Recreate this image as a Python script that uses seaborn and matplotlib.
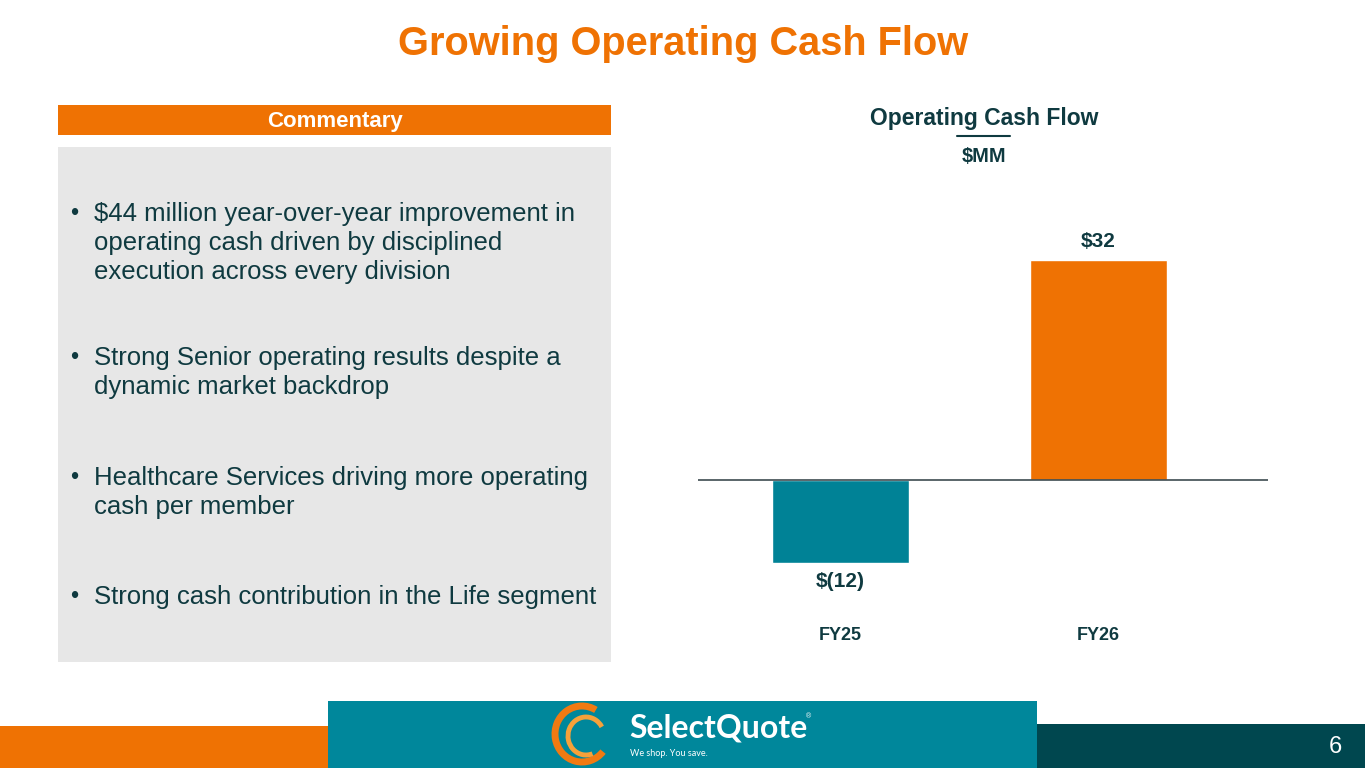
import numpy as np
import pandas as pd
import matplotlib
matplotlib.use("Agg")
import matplotlib.pyplot as plt
from matplotlib.patches import Rectangle, Arc
import seaborn as sns

# Datos
# ==============================================================================
years = ["FY25", "FY26"]
cash_flow = [-12, 32]
value_labels = ["$(12)", "$32"]
bullets = [
    ["$44 million year-over-year improvement in",
     "operating cash driven by disciplined",
     "execution across every division"],
    ["Strong Senior operating results despite a",
     "dynamic market backdrop"],
    ["Healthcare Services driving more operating",
     "cash per member"],
    ["Strong cash contribution in the Life segment"],
]
bullet_y = [214, 358, 478, 597]

datos = pd.DataFrame({"year": years, "cash": cash_flow})

# Colores
# ==============================================================================
ORANGE = "#EF7203"
TEAL = "#008296"
DARK_TEAL = "#00474F"
TEXT = "#0F3A40"
GREY = "#E7E7E7"

sns.set_theme(style="white")
plt.rcParams["font.family"] = ["Liberation Sans", "DejaVu Sans"]

fig = plt.figure(figsize=(13.65, 7.68), dpi=100)
fig.patch.set_facecolor("white")

# Fondo / decoración en coordenadas de pixel
# ==============================================================================
bg = fig.add_axes([0, 0, 1, 1], zorder=0)
bg.set_xlim(0, 1365)
bg.set_ylim(768, 0)
bg.axis("off")

bg.text(683, 44, "Growing Operating Cash Flow", color=ORANGE, fontsize=28.6,
        fontweight="bold", ha="center", va="center")

bg.add_patch(Rectangle((58, 105), 553, 30, color=ORANGE, lw=0))
bg.text(335, 121, "Commentary", color="white", fontsize=16,
        fontweight="bold", ha="center", va="center")
bg.add_patch(Rectangle((58, 147), 553, 515, color=GREY, lw=0))

for lines, y0 in zip(bullets, bullet_y):
    bg.text(70, y0, "•", color=TEXT, fontsize=17, ha="left", va="center")
    for i, line in enumerate(lines):
        bg.text(94, y0 + i * 29, line, color=TEXT, fontsize=18.5,
                ha="left", va="center")

# Título del gráfico
bg.text(984, 119, "Operating Cash Flow", color=TEXT, fontsize=16.5,
        fontweight="bold", ha="center", va="center")
bg.plot([957, 1010], [136, 136], color=TEXT, lw=1.5)
bg.text(984, 156, "$MM", color=TEXT, fontsize=14.5, fontweight="bold",
        ha="center", va="center")

# Pie de página
bg.add_patch(Rectangle((0, 726), 328, 42, color=ORANGE, lw=0))
bg.add_patch(Rectangle((328, 701), 709, 67, color="#00879B", lw=0))
bg.add_patch(Rectangle((1037, 724), 328, 44, color=DARK_TEAL, lw=0))
bg.text(1335, 747, "6", color="white", fontsize=17, ha="center", va="center")

# Logo
bg.add_patch(Arc((582, 734), 54, 56, theta1=40, theta2=300, color="#F07A12", lw=5))
bg.add_patch(Arc((586, 736), 36, 38, theta1=70, theta2=330, color="#F6A13A", lw=3.5))
bg.text(629, 728, "SelectQuote", color="white", fontsize=23, fontweight="bold",
        family=["Lato", "DejaVu Sans"], ha="left", va="center")
bg.text(806, 717, "®", color="white", fontsize=5, ha="left", va="center")
bg.text(630, 753, "We shop. You save.", color="white", fontsize=6.5,
        family=["Lato", "DejaVu Sans"], ha="left", va="center")

# Gráfico de barras
# ==============================================================================
px_top, px_bottom, px_zero = 230, 600, 480
scale = (480 - 260) / 32.0
ax = fig.add_axes([698 / 1365, 1 - px_bottom / 768, 570 / 1365,
                   (px_bottom - px_top) / 768], zorder=1)
ax.set_facecolor("none")

sns.barplot(data=datos, x="year", y="cash", hue="year",
            palette=[TEAL, ORANGE], width=0.531, legend=False,
            saturation=1, ax=ax)

ax.set_ylim(-(px_bottom - px_zero) / scale, (px_zero - px_top) / scale)
ax.set_xlim(-0.552, 1.657)
ax.axhline(0, color="#3D4B50", lw=1.2, zorder=3)

for i, (v, lab) in enumerate(zip(cash_flow, value_labels)):
    off = 13 if v >= 0 else -14
    ax.annotate(lab, (i, v), xytext=(0, off), textcoords="offset points",
                ha="center", va="center", color=TEXT, fontsize=15,
                fontweight="bold")
    ax.text(i, -0.097, years[i], transform=ax.get_xaxis_transform(),
            ha="center", va="center", color=TEXT, fontsize=13,
            fontweight="bold", clip_on=False)

ax.set_xticks([])
ax.set_yticks([])
ax.set_xlabel("")
ax.set_ylabel("")
sns.despine(ax=ax, left=True, bottom=True)

fig.savefig("out.png", dpi=100, facecolor="white")
